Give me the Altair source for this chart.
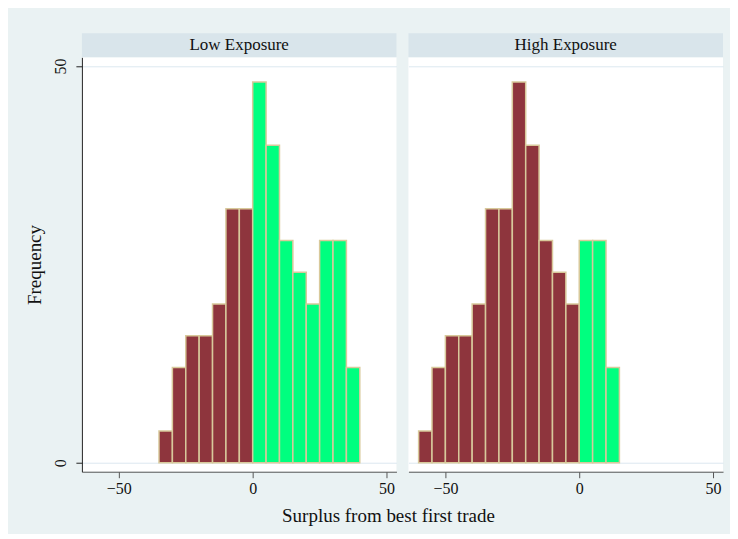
import altair as alt
import pandas as pd

# ---- data ----
panels = ["Low Exposure", "High Exposure"]
x_title = "Surplus from best first trade"
bin_width = 5
low_bin_starts = [-35, -30, -25, -20, -15, -10, -5, 0, 5, 10, 15, 20, 25, 30, 35]
low_counts = [4, 12, 16, 16, 20, 32, 32, 48, 40, 28, 24, 20, 28, 28, 12]
high_bin_starts = [-60, -55, -50, -45, -40, -35, -30, -25, -20, -15, -10, -5, 0, 5, 10]
high_counts = [4, 12, 16, 16, 20, 32, 32, 48, 40, 28, 24, 20, 28, 28, 12]
x_ticks = [-50, 0, 50]
y_ticks = [0, 50]

# ---- style ----
W, H = 315, 415
BG = "#EAF2F3"
STRIP = "#D9E5EB"
GRID = "#DCE8F0"
NEG = "#8E353D"
POS = "#00FF7F"
OUTLINE = "#D8C99B"
FONT = "Liberation Serif"


def make_df(starts, counts):
    return pd.DataFrame({
        "lo": starts,
        "hi": [s + bin_width for s in starts],
        "count": counts,
        "side": ["neg" if s < 0 else "pos" for s in starts],
    })


def panel(df, label, show_y):
    xscale = alt.Scale(domain=[-63.8, 53.7], nice=False, zero=False)
    yscale = alt.Scale(domain=[-1.13, 51.1], nice=False, zero=False)
    xaxis = alt.Axis(values=x_ticks, title=None, grid=False, tickSize=6,
                     labelPadding=3, domainColor="#555", tickColor="#555",
                     labelFontSize=16)
    if show_y:
        yaxis = alt.Axis(values=y_ticks, title="Frequency", grid=True, gridColor=GRID,
                         labelAngle=270, tickSize=6, labelPadding=7,
                         titlePadding=8, titleFontSize=19, titleFontWeight="normal",
                         domainColor="#222", tickColor="#222", labelFontSize=16)
    else:
        yaxis = alt.Axis(values=y_ticks, title=None, grid=True, gridColor=GRID,
                         labels=False, ticks=False, domain=False)
    bars = alt.Chart(df).mark_bar(stroke=OUTLINE, strokeWidth=1.5).encode(
        x=alt.X("lo:Q", scale=xscale, axis=xaxis),
        x2="hi:Q",
        y=alt.Y("count:Q", scale=yscale, axis=yaxis),
        y2=alt.datum(0),
        color=alt.Color("side:N", scale=alt.Scale(domain=["neg", "pos"], range=[NEG, POS]),
                        legend=None),
    )
    hdr = alt.Data(values=[{"label": label}])
    strip = alt.Chart(hdr).mark_rect(fill=STRIP).encode(
        x=alt.value(0), x2=alt.value(W), y=alt.value(-24), y2=alt.value(0))
    strip_text = alt.Chart(hdr).mark_text(font=FONT, fontSize=17, color="#111").encode(
        x=alt.value(W / 2), y=alt.value(-12), text="label:N")
    layers = [strip, strip_text, bars]
    if show_y:
        xt = alt.Data(values=[{"t": x_title}])
        layers.append(alt.Chart(xt).mark_text(font=FONT, fontSize=19, color="#111").encode(
            x=alt.value(307), y=alt.value(H + 44), text="t:N"))
    return alt.layer(*layers).properties(width=W, height=H)


left = panel(make_df(low_bin_starts, low_counts), panels[0], True)
right = panel(make_df(high_bin_starts, high_counts), panels[1], False)

chart = alt.hconcat(left, right, spacing=12, bounds="flush").properties(
    background=BG,
    padding={"left": 18, "top": 25, "right": 7, "bottom": 8},
).configure_view(fill="white", stroke=None).configure_axis(
    labelFont=FONT, titleFont=FONT, labelColor="#111", titleColor="#111"
).resolve_scale(color="shared")

chart.save("out.html", embed_options={"renderer": "svg", "actions": False})
